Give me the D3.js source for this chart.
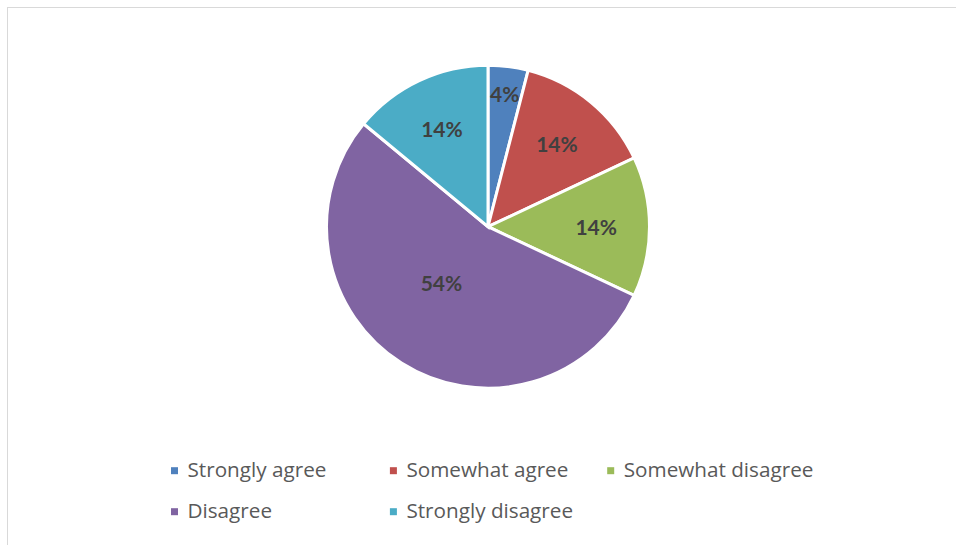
<!DOCTYPE html>
<html>
<head>
<meta charset="utf-8">
<script src="https://cdn.jsdelivr.net/npm/d3@7"></script>
<style>
  html, body { margin: 0; padding: 0; background: #fff; }
  svg { display: block; }
</style>
</head>
<body>
<svg id="chart" width="956" height="545"></svg>
<script>
// Survey responses (share of respondents, %)
const categories = ["Strongly agree", "Somewhat agree", "Somewhat disagree", "Disagree", "Strongly disagree"];
const values = [4, 14, 14, 54, 14];
const colors = ["#4F81BD", "#C0504D", "#9BBB59", "#8064A2", "#4BACC6"];

const W = 956, H = 545;
const svg = d3.select("#chart");

// chart area frame
svg.append("rect")
  .attr("x", 7.5).attr("y", 7.5)
  .attr("width", W + 10).attr("height", H + 10)
  .attr("fill", "#fff")
  .attr("stroke", "#d9d9d9")
  .attr("stroke-width", 1);

const cx = 488, cy = 226.7, R = 161.5;
const data = categories.map((c, i) => ({ name: c, value: values[i], color: colors[i] }));

const pie = d3.pie().value(d => d.value).sort(null).startAngle(0).endAngle(2 * Math.PI);
const arcs = pie(data);
const arc = d3.arc().innerRadius(0).outerRadius(R);

const g = svg.append("g").attr("transform", `translate(${cx},${cy})`);

g.selectAll("path.slice")
  .data(arcs)
  .enter().append("path")
  .attr("class", "slice")
  .attr("d", arc)
  .attr("fill", d => d.data.color)
  .attr("stroke", "#fff")
  .attr("stroke-width", 3)
  .attr("stroke-linejoin", "miter");

// best-fit style label placement: small slices push out, large ones pull in
function labelPos(d) {
  const span = d.endAngle - d.startAngle;
  let mid = (d.startAngle + d.endAngle) / 2;
  let k = 0.67;
  if (span < 0.3) k = 0.83;
  else if (span > Math.PI) { k = 0.45; mid += 0.13; }
  return [Math.sin(mid) * R * k, -Math.cos(mid) * R * k];
}

g.selectAll("text.lbl")
  .data(arcs)
  .enter().append("text")
  .attr("class", "lbl")
  .attr("x", d => labelPos(d)[0])
  .attr("y", d => labelPos(d)[1])
  .attr("text-anchor", "middle")
  .attr("dominant-baseline", "central")
  .attr("font-family", "Lato, 'Open Sans', sans-serif")
  .attr("font-weight", "bold")
  .attr("font-size", 21)
  .attr("fill", "#404040")
  .text(d => d.data.value + "%");

// legend: three columns, two rows
const colX = [174.5, 393.4, 610.7];
const rowY = [470.7, 511.7];
const leg = svg.append("g");
data.forEach((d, i) => {
  const x = colX[i % 3], y = rowY[Math.floor(i / 3)];
  leg.append("rect")
    .attr("x", x - 3.5).attr("y", y - 3.5)
    .attr("width", 7).attr("height", 7)
    .attr("fill", d.color);
  leg.append("text")
    .attr("x", x + 13)
    .attr("y", y + 6.5)
    .attr("font-family", "'Open Sans', sans-serif")
    .attr("font-size", 20.7)
    .attr("fill", "#595959")
    .text(d.name);
});
</script>
</body>
</html>
